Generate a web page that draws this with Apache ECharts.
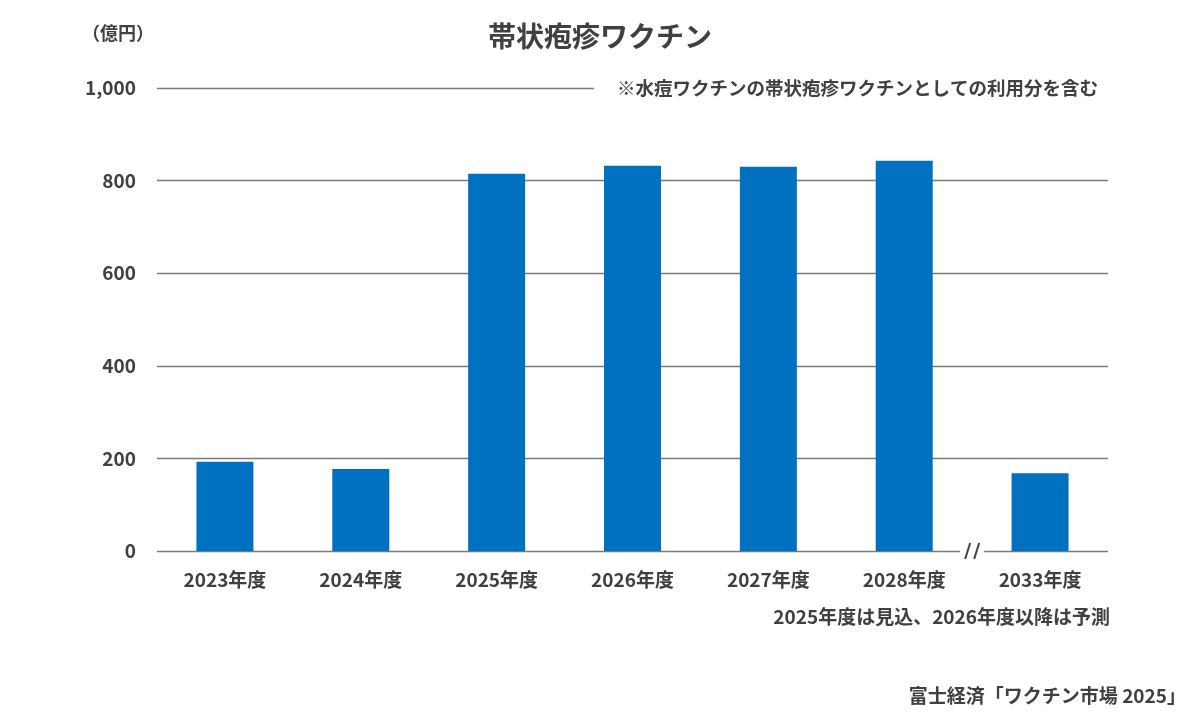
<!DOCTYPE html>
<html>
<head>
<meta charset="utf-8">
<script src="https://cdn.jsdelivr.net/npm/echarts@6/dist/echarts.min.js"></script>
<style>
  html, body { margin: 0; padding: 0; background: #fff; }
  #chart { width: 1200px; height: 718px; }
</style>
</head>
<body>
<div id="chart"></div>
<script>
// 帯状疱疹ワクチン 市場規模（億円）
const categories = ['2023年度', '2024年度', '2025年度', '2026年度', '2027年度', '2028年度', '2033年度']
const marketValues = [193, 177, 815, 832, 830, 843, 168]
const yTicks = [0, 200, 400, 600, 800, 1000]

const titleText = '帯状疱疹ワクチン'
const unitText = '（億円）'
const noteText = '※水痘ワクチンの帯状疱疹ワクチンとしての利用分を含む'
const footText = '2025年度は見込、2026年度以降は予測'
const sourceText = '富士経済「ワクチン市場 2025」'

const FONT = '"Noto Sans CJK JP", "Noto Sans", sans-serif'
const TEXT_COLOR = '#404040'

const chart = echarts.init(document.getElementById('chart'))

const option = {
	backgroundColor: '#ffffff',
	animation: false,
	textStyle: { fontFamily: FONT },
	grid: {
		left: 157,
		right: 92,
		top: 88,
		bottom: 167
	},
	title: {
		text: titleText,
		left: 'center',
		top: 17,
		textStyle: {
			fontFamily: FONT,
			fontSize: 28,
			fontWeight: 'bold',
			color: TEXT_COLOR
		}
	},
	xAxis: {
		type: 'category',
		data: categories,
		axisLine: { show: false },
		axisTick: { show: false },
		axisLabel: {
			margin: 19,
			fontSize: 19,
			fontWeight: 'bold',
			color: TEXT_COLOR
		}
	},
	yAxis: {
		type: 'value',
		min: 0,
		max: yTicks[yTicks.length - 1],
		interval: 200,
		axisLine: { show: false },
		axisTick: { show: false },
		axisLabel: {
			margin: 21,
			fontSize: 19,
			fontWeight: 'bold',
			color: TEXT_COLOR,
			formatter: (v) => v.toLocaleString('en-US')
		},
		splitLine: {
			lineStyle: { color: '#7a7a7a', width: 1.3 }
		}
	},
	series: [
		{
			type: 'bar',
			data: marketValues,
			barWidth: 57,
			itemStyle: { color: '#0070c0' }
		}
	]
}
chart.setOption(option)

// 注記・軸の省略記号などの装飾
const gridRect = chart.getModel().getComponent('grid').coordinateSystem.getRect()
const zeroY = chart.convertToPixel({ yAxisIndex: 0 }, 0)
const topY = chart.convertToPixel({ yAxisIndex: 0 }, 1000)
const breakX = (chart.convertToPixel({ xAxisIndex: 0 }, categories[5]) + chart.convertToPixel({ xAxisIndex: 0 }, categories[6])) / 2

chart.setOption({
	graphic: [
		{
			type: 'text',
			left: 82,
			top: 24,
			style: { text: unitText, font: 'bold 18px ' + FONT, fill: TEXT_COLOR }
		},
		{
			type: 'rect',
			shape: { x: 594, y: topY - 12, width: gridRect.x + gridRect.width - 594 + 2, height: 24 },
			style: { fill: '#ffffff' },
			z: 100
		},
		{
			type: 'text',
			x: 1098,
			y: topY,
			style: { text: noteText, font: 'bold 18.5px ' + FONT, fill: TEXT_COLOR, align: 'right', verticalAlign: 'middle' },
			z: 101
		},
		{
			type: 'rect',
			shape: { x: breakX - 12, y: zeroY - 6, width: 24, height: 12 },
			style: { fill: '#ffffff' },
			z: 100
		},
		{
			type: 'polyline',
			shape: { points: [[breakX - 7, zeroY + 8], [breakX - 2, zeroY - 8]] },
			style: { stroke: '#404040', lineWidth: 2 },
			z: 101
		},
		{
			type: 'polyline',
			shape: { points: [[breakX + 2, zeroY + 8], [breakX + 7, zeroY - 8]] },
			style: { stroke: '#404040', lineWidth: 2 },
			z: 101
		},
		{
			type: 'text',
			x: 1110,
			y: 617,
			style: { text: footText, font: 'bold 19px ' + FONT, fill: TEXT_COLOR, align: 'right', verticalAlign: 'middle' }
		},
		{
			type: 'text',
			x: 1186,
			y: 696,
			style: { text: sourceText, font: 'bold 19px ' + FONT, fill: TEXT_COLOR, align: 'right', verticalAlign: 'middle' }
		}
	]
})
</script>
</body>
</html>
